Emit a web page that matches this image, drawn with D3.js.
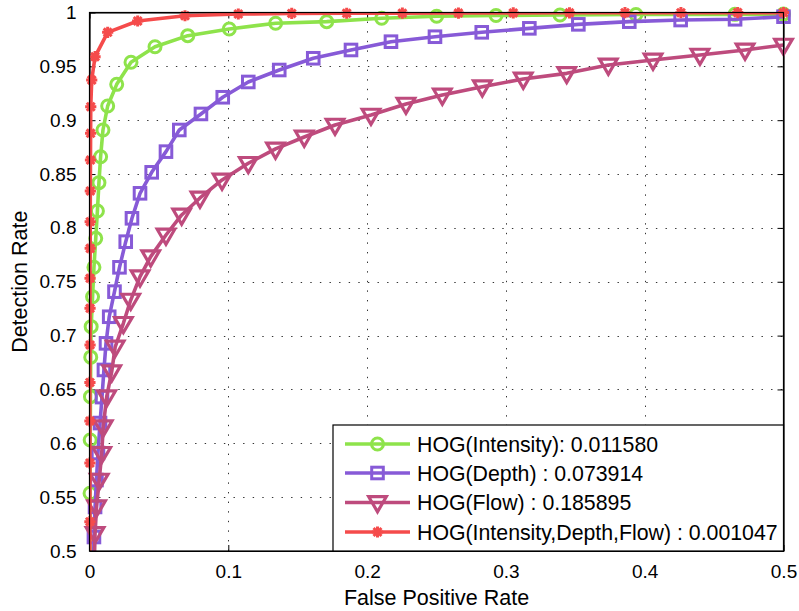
<!DOCTYPE html>
<html><head><meta charset="utf-8">
<script src="https://cdn.jsdelivr.net/npm/d3@7"></script>
<style>
html,body{margin:0;padding:0;background:#fff;}
svg{display:block;font-family:"Liberation Sans",Arial,Helvetica,sans-serif;}
</style></head>
<body><svg id="chart" width="799" height="611"></svg>
<script>
// ---- data ----
const seriesNames = ["HOG(Intensity): 0.011580","HOG(Depth) : 0.073914","HOG(Flow) : 0.185895","HOG(Intensity,Depth,Flow) : 0.001047"];
const seriesColors = ["#8ee34b","#875ad7","#be4b7d","#f54b4b"];
const seriesMarkers = ["circle","square","triangle","star"];

const intensityFPR = [0.0003,0.0004,0.0005,0.0007,0.0009,0.0012,0.0022,0.0032,0.0045,0.0057,0.0068,0.0080,0.0097,0.0131,0.0196,0.0299,0.0472,0.0708,0.1007,0.1341,0.1709,0.2105,0.2501,0.2929,0.3390,0.3937,0.4650,0.5];
const intensityTPR = [0.49,0.5536,0.6031,0.6433,0.6800,0.7083,0.7361,0.7634,0.7903,0.8157,0.8420,0.8661,0.8909,0.9132,0.9333,0.9538,0.9682,0.9785,0.9847,0.9900,0.9915,0.9946,0.9965,0.9972,0.9977,0.9981,0.9983,0.9985];

const depthFPR = [0.0030,0.0032,0.0040,0.0050,0.0061,0.0076,0.0090,0.0104,0.0119,0.0142,0.0180,0.0216,0.0261,0.0306,0.0364,0.0448,0.0551,0.0647,0.0803,0.0960,0.1144,0.1367,0.1612,0.1884,0.2172,0.2489,0.2826,0.3169,0.3522,0.3889,0.4259,0.4651,0.5];
const depthTPR = [0.49,0.5130,0.5409,0.5659,0.5910,0.6188,0.6429,0.6681,0.6928,0.7175,0.7408,0.7634,0.7872,0.8089,0.8321,0.8516,0.8708,0.8909,0.9058,0.9213,0.9355,0.9466,0.9575,0.9652,0.9729,0.9775,0.9816,0.9853,0.9890,0.9915,0.9930,0.9937,0.9961];

const flowFPR = [0.0035,0.0040,0.0051,0.0070,0.0088,0.0099,0.0124,0.0160,0.0185,0.0244,0.0297,0.0364,0.0441,0.0551,0.0664,0.0796,0.0955,0.1144,0.1340,0.1547,0.1769,0.2028,0.2280,0.2542,0.2830,0.3125,0.3438,0.3738,0.4060,0.4398,0.4723,0.5];
const flowTPR = [0.49,0.5164,0.5411,0.5659,0.5907,0.6154,0.6433,0.6665,0.6894,0.7114,0.7330,0.7547,0.7733,0.7934,0.8120,0.8278,0.8445,0.8600,0.8733,0.8844,0.8955,0.9048,0.9150,0.9234,0.9311,0.9383,0.9435,0.9513,0.9559,0.9605,0.9652,0.9698];

const combinedFPR = [0.0003,0.0003,0.0003,0.0003,0.0003,0.0004,0.0004,0.0004,0.0005,0.0005,0.0006,0.0007,0.0008,0.0009,0.0016,0.0040,0.0131,0.0347,0.0688,0.1072,0.1457,0.1853,0.2254,0.2658,0.3053,0.3458,0.3858,0.4261,0.4670,0.5];
const combinedTPR = [0.49,0.5272,0.5817,0.6207,0.6565,0.6913,0.7253,0.7532,0.7810,0.8058,0.8343,0.8630,0.8878,0.9125,0.9373,0.9590,0.9816,0.9921,0.9970,0.9986,0.9991,0.9993,0.9994,0.9995,0.9996,0.9997,0.9998,0.9998,0.9999,0.9999];

const xTicks = [0,0.1,0.2,0.3,0.4,0.5];
const xTickLabels = ["0","0.1","0.2","0.3","0.4","0.5"];
const yTicks = [0.5,0.55,0.6,0.65,0.7,0.75,0.8,0.85,0.9,0.95,1];
const yTickLabels = ["0.5","0.55","0.6","0.65","0.7","0.75","0.8","0.85","0.9","0.95","1"];
const xLabel = "False Positive Rate";
const yLabel = "Detection Rate";

// ---- layout ----
const L = 89.5, R = 783.5, T = 12.5, B = 551;
const svg = d3.select("#chart");
const x = d3.scaleLinear().domain([0,0.5]).range([L,R]);
const y = d3.scaleLinear().domain([0.5,1]).range([B,T]);

svg.append("rect").attr("x",0).attr("y",0).attr("width",799).attr("height",611).attr("fill","#fff");

svg.append("defs").append("clipPath").attr("id","clip")
  .append("rect").attr("x",L).attr("y",T).attr("width",R-L).attr("height",B-T);

// grid
const grid = svg.append("g").attr("stroke","#333").attr("stroke-width",1).attr("stroke-dasharray","1.4,8.2");
grid.selectAll("line.gx").data(xTicks.slice(1,-1)).join("line")
  .attr("x1",d=>Math.round(x(d))+0.5).attr("x2",d=>Math.round(x(d))+0.5).attr("y1",B).attr("y2",T);
grid.selectAll("line.gy").data(yTicks.slice(1,-1)).join("line")
  .attr("y1",d=>Math.round(y(d))+0.5).attr("y2",d=>Math.round(y(d))+0.5).attr("x1",L).attr("x2",R);

// axes
const tl = 6;
const axB = svg.append("g").attr("transform",`translate(0,${B})`)
  .call(d3.axisBottom(x).tickValues(xTicks).tickFormat((d,i)=>xTickLabels[i]).tickSizeInner(-tl).tickSizeOuter(0).tickPadding(14));
const axT = svg.append("g").attr("transform",`translate(0,${T})`)
  .call(d3.axisTop(x).tickValues(xTicks).tickFormat("").tickSizeInner(-tl).tickSizeOuter(0));
const axL = svg.append("g").attr("transform",`translate(${L},0)`)
  .call(d3.axisLeft(y).tickValues(yTicks).tickFormat((d,i)=>yTickLabels[i]).tickSizeInner(-tl).tickSizeOuter(0).tickPadding(13));
const axR = svg.append("g").attr("transform",`translate(${R},0)`)
  .call(d3.axisRight(y).tickValues(yTicks).tickFormat("").tickSizeInner(-tl).tickSizeOuter(0));
[axB,axT,axL,axR].forEach(a=>{
  a.select(".domain").attr("stroke","#000").attr("stroke-width",1.2);
  a.selectAll(".tick line").attr("stroke","#000");
  a.selectAll("text").attr("font-size",19).attr("fill","#000").attr("font-family","'Liberation Sans',Arial,sans-serif");
});

// series
const series = [
  {fx:intensityFPR, ty:intensityTPR},
  {fx:depthFPR, ty:depthTPR},
  {fx:flowFPR, ty:flowTPR},
  {fx:combinedFPR, ty:combinedTPR}
];
const line = d3.line().x(d=>x(d[0])).y(d=>y(d[1]));

function drawMarker(g, type, color){
  if(type==="circle"){
    g.append("circle").attr("r",6).attr("fill","none").attr("stroke",color).attr("stroke-width",3);
  } else if(type==="square"){
    g.append("rect").attr("x",-5.8).attr("y",-5.8).attr("width",11.6).attr("height",11.6).attr("fill","none").attr("stroke",color).attr("stroke-width",3);
  } else if(type==="triangle"){
    g.append("path").attr("d","M-8.8,-5.8L8.8,-5.8L0,9.3Z").attr("fill","none").attr("stroke",color).attr("stroke-width",3.2).attr("stroke-linejoin","miter");
  } else {
    const r=5.6;
    const p = [];
    for(let k=0;k<4;k++){const a=k*Math.PI/4; p.push(`M${-r*Math.cos(a)},${-r*Math.sin(a)}L${r*Math.cos(a)},${r*Math.sin(a)}`);}
    g.append("path").attr("d",p.join("")).attr("stroke",color).attr("stroke-width",3).attr("fill","none");
  }
}

series.forEach((s,i)=>{
  const pts = s.fx.map((v,j)=>[v,s.ty[j]]);
  const g = svg.append("g");
  g.append("path").datum(pts).attr("d",line).attr("fill","none")
    .attr("stroke",seriesColors[i]).attr("stroke-width",3.6).attr("stroke-linejoin","round")
    .attr("clip-path","url(#clip)");
  pts.filter(p=>p[0]>=0&&p[0]<=0.5&&p[1]>=0.5&&p[1]<=1).forEach(p=>{
    const m = g.append("g").attr("transform",`translate(${x(p[0])},${y(p[1])})`);
    drawMarker(m, seriesMarkers[i], seriesColors[i]);
  });
});

// redraw box edges on top
svg.append("rect").attr("x",L).attr("y",T).attr("width",R-L).attr("height",B-T)
  .attr("fill","none").attr("stroke","#000").attr("stroke-width",1.2);

// legend
const lg = svg.append("g");
const lgX = 333, lgY = 425, lgW = R-333, lgH = B-425;
lg.append("rect").attr("x",lgX).attr("y",lgY).attr("width",lgW).attr("height",lgH)
  .attr("fill","#fff").attr("stroke","#000").attr("stroke-width",1.2);
const rowY = [444,473,502.5,532];
seriesNames.forEach((name,i)=>{
  const gy = rowY[i];
  lg.append("line").attr("x1",345).attr("x2",410).attr("y1",gy).attr("y2",gy)
    .attr("stroke",seriesColors[i]).attr("stroke-width",3.6);
  const m = lg.append("g").attr("transform",`translate(377.5,${gy})`);
  drawMarker(m, seriesMarkers[i], seriesColors[i]);
  lg.append("text").attr("x",417).attr("y",gy).attr("dy","0.36em")
    .attr("font-size",21.3).attr("fill","#000").text(name);
});

// axis titles
svg.append("text").attr("x",(L+R)/2).attr("y",605).attr("text-anchor","middle")
  .attr("font-size",21.5).attr("fill","#000").text(xLabel);
svg.append("text").attr("transform",`translate(27,${(T+B)/2}) rotate(-90)`).attr("text-anchor","middle")
  .attr("font-size",21.5).attr("fill","#000").text(yLabel);
</script></body></html>
